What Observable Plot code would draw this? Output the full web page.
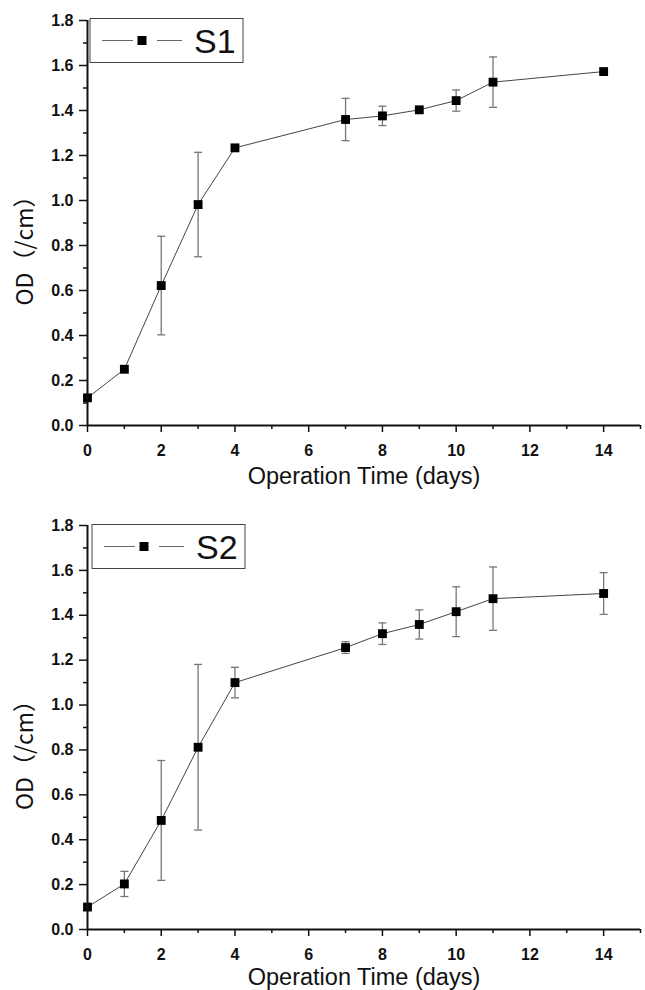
<!DOCTYPE html>
<html><head><meta charset="utf-8">
<script src="https://cdn.jsdelivr.net/npm/d3@7"></script>
<script src="https://cdn.jsdelivr.net/npm/@observablehq/plot@0.6"></script>
<style>body{margin:0;background:#fff} #c svg{display:block}</style>
</head><body><div id="c"></div>
<script>
const days = [0, 1, 2, 3, 4, 7, 8, 9, 10, 11, 14];
const s1Mean = [0.123, 0.25, 0.622, 0.982, 1.234, 1.36, 1.376, 1.403, 1.444, 1.526, 1.573];
const s1Sd   = [0, 0, 0.219, 0.232, 0, 0.094, 0.043, 0, 0.047, 0.112, 0];
const s2Mean = [0.10, 0.203, 0.486, 0.812, 1.100, 1.256, 1.318, 1.359, 1.416, 1.474, 1.497];
const s2Sd   = [0, 0.056, 0.267, 0.369, 0.068, 0.026, 0.048, 0.065, 0.111, 0.141, 0.093];
const seriesNames = ["S1", "S2"];
const xMajor = [0, 2, 4, 6, 8, 10, 12, 14];
const xMinor = [1, 3, 5, 7, 9, 11, 13, 15];
const yMajor = [0, 0.2, 0.4, 0.6, 0.8, 1.0, 1.2, 1.4, 1.6, 1.8];
const yMinor = [0.1, 0.3, 0.5, 0.7, 0.9, 1.1, 1.3, 1.5, 1.7];
const xTitle = "Operation Time (days)";
const yTitle = "OD（/cm）";

const capSymbol = {draw(ctx) { ctx.moveTo(-4, 0); ctx.lineTo(4, 0); }};
const titleFont = "'Noto Sans CJK JP', 'Noto Sans', sans-serif";
const latinFont = "'Liberation Sans', Arial, sans-serif";

function panel(mean, sd, name, cfg) {
  const data = days.map((d, i) => ({day: d, od: mean[i], sd: sd[i]}));
  const bars = data.filter(d => d.sd > 0);
  const chart = Plot.plot({
    width: 645, height: 495,
    marginTop: cfg.mt, marginBottom: cfg.mb, marginLeft: 87, marginRight: 5,
    style: {fontFamily: latinFont, fontWeight: "bold", fontSize: "16px", color: "#111", background: "#fff"},
    x: {domain: [0, 15]},
    y: {domain: [0, 1.8]},
    marks: [
      Plot.ruleX(bars, {x: "day", y1: d => d.od - d.sd, y2: d => d.od + d.sd, stroke: "#777", strokeWidth: 1.3}),
      Plot.dot(bars, {x: "day", y: d => d.od + d.sd, symbol: capSymbol, fill: "none", stroke: "#777", strokeWidth: 1.3}),
      Plot.dot(bars, {x: "day", y: d => d.od - d.sd, symbol: capSymbol, fill: "none", stroke: "#777", strokeWidth: 1.3}),
      Plot.line(data, {x: "day", y: "od", stroke: "#444", strokeWidth: 1}),
      Plot.dot(data, {x: "day", y: "od", symbol: "square", r: 5, fill: "#000", stroke: "none"}),
      Plot.ruleY([0], {stroke: "#111", strokeWidth: 2}),
      Plot.ruleX([0], {stroke: "#111", strokeWidth: 2}),
      Plot.axisX({ticks: xMajor, tickSize: 7, tickPadding: 12, tickFormat: d3.format("d"), label: null, strokeWidth: 1.5}),
      Plot.axisX({ticks: xMinor, tickSize: 4, tickFormat: () => "", label: null, strokeWidth: 1.5}),
      Plot.axisY({ticks: yMajor, tickSize: 8, tickPadding: 6, tickFormat: d3.format(".1f"), label: null, strokeWidth: 1.5}),
      Plot.axisY({ticks: yMinor, tickSize: 4, tickFormat: () => "", label: null, strokeWidth: 1.5}),
      Plot.text([xTitle], {frameAnchor: "bottom", lineAnchor: "middle", dy: cfg.xdy, fontSize: 23.5, fontWeight: "normal", fontFamily: latinFont, fill: "#111"}),
      Plot.text([yTitle], {frameAnchor: "left", textAnchor: "middle", lineAnchor: "middle", dx: -62, dy: 22, rotate: -90, fontSize: 23, fontWeight: "normal", fontFamily: titleFont, fill: "#111"})
    ]
  });
  // legend box
  const svg = d3.select(chart);
  const g = svg.append("g");
  const lx = cfg.lx, ly = cfg.ly, cy = ly + 22;
  g.append("rect").attr("x", lx).attr("y", ly).attr("width", 153).attr("height", 44)
    .attr("fill", "#fff").attr("stroke", "#444").attr("stroke-width", 1);
  g.append("line").attr("x1", lx + 12).attr("x2", lx + 43).attr("y1", cy).attr("y2", cy).attr("stroke", "#666");
  g.append("line").attr("x1", lx + 67).attr("x2", lx + 92).attr("y1", cy).attr("y2", cy).attr("stroke", "#666");
  g.append("rect").attr("x", lx + 47.5).attr("y", cy - 4.5).attr("width", 9).attr("height", 9).attr("fill", "#000");
  g.append("text").attr("x", lx + 104).attr("y", cy + 12).attr("font-size", 34).attr("font-weight", "normal")
    .attr("text-anchor", "start")
    .attr("font-family", latinFont).attr("fill", "#111").text(name);
  return chart;
}

const c = document.getElementById("c");
c.appendChild(panel(s1Mean, s1Sd, seriesNames[0], {mt: 20, mb: 70, xdy: 50.5, lx: 90, ly: 18.5}));
c.appendChild(panel(s2Mean, s2Sd, seriesNames[1], {mt: 30, mb: 61, xdy: 48.2, lx: 92, ly: 29.5}));
</script>
</body></html>
